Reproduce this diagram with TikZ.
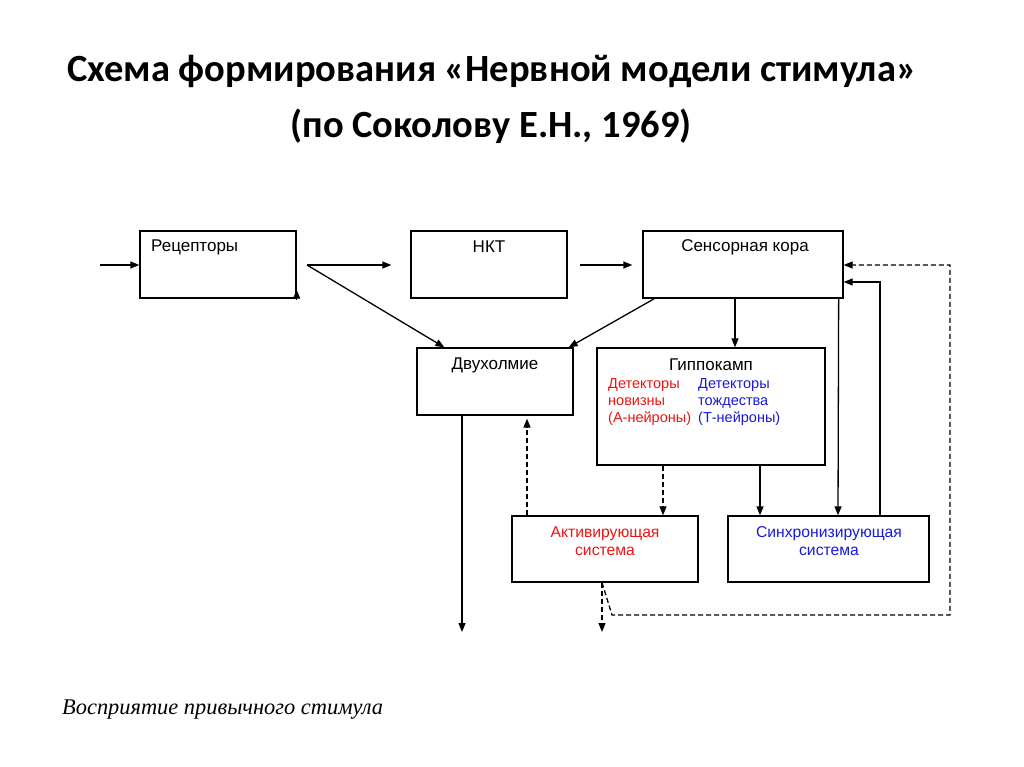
\documentclass[tikz,border=0pt]{standalone}
\usepackage{fontspec}
\setmainfont{Liberation Sans}
\newfontfamily\titlefont{Carlito}
\newfontfamily\italfont{Liberation Serif}
\usetikzlibrary{arrows.meta,calc}
\definecolor{myred}{RGB}{235,20,20}
\definecolor{myblue}{RGB}{25,25,215}
\begin{document}
\begin{tikzpicture}[x=1pt,y=-1pt,
  box/.style={draw,line width=1.3pt,inner sep=0pt,minimum height=67pt},
  lbl/.style={inner sep=0pt,font=\fontsize{17}{19}\selectfont},
  small/.style={inner sep=0pt,align=left,font=\fontsize{14.5}{17}\selectfont},
  sub/.style={inner sep=0pt,align=center,anchor=north,font=\fontsize{15.7}{18.5}\selectfont},
  tip/.style={-{Triangle[length=9pt,width=7pt]}},
  arr/.style={line width=1.3pt,tip},
  dsh/.style={line width=1.3pt,dash pattern=on 5pt off 3pt,tip}]
\useasboundingbox (0,0) rectangle (1024,767);
% title
\node[inner sep=0pt,font=\titlefont\bfseries\fontsize{38.5}{44}\selectfont] (t1) at (492,71) {Схема формирования «Нервной модели стимула»};
\node[inner sep=0pt,font=\titlefont\bfseries\fontsize{38.5}{44}\selectfont] (t2) at (491,126) {(по Соколову Е.Н., 1969)};
% boxes
\node[box,minimum width=156pt] (rec) at (218,264.5) {};
\node[box,minimum width=156pt] (nkt) at (489,264.5) {};
\node[box,minimum width=200pt] (sens) at (743,264.5) {};
\node[box,minimum width=156pt] (dvu) at (495,381.5) {};
\node[box,minimum width=228pt,minimum height=117pt] (hip) at (711,406.5) {};
\node[box,minimum width=186pt,minimum height=66pt] (act) at (605,549) {};
\node[box,minimum width=201pt,minimum height=66pt] (syn) at (828.5,549) {};
% labels
\node[lbl,anchor=west] (lrec) at (151,247) {Рецепторы};
\node[lbl] (lnkt) at (489,247) {НКТ};
\node[lbl] (lsens) at (745,247) {Сенсорная кора};
\node[lbl] (ldvu) at (495,365) {Двухолмие};
\node[lbl] (lhip) at (711,365) {Гиппокамп};
\node[small,anchor=north west,text=myred] (lnov) at (608,378.5) {Детекторы\\новизны\\(А-нейроны)};
\node[small,anchor=north west,text=myblue] (lid) at (698,378.5) {Детекторы\\тождества\\(Т-нейроны)};
\node[sub,text=myred] (lact) at (605,526) {Активирующая\\система};
\node[sub,text=myblue] (lsyn) at (829,526) {Синхронизирующая\\система};
\node[inner sep=0pt,anchor=west,font=\italfont\itshape\fontsize{22.4}{26}\selectfont] (bottom) at (62,710) {Восприятие привычного стимула};
% coordinates
\coordinate (in) at (100,265);
\coordinate (split) at (307,265);
\coordinate (nktout) at (580,265);
\coordinate (out1) at (462,632);
\coordinate (out2) at (602,632);
\coordinate (kink) at (612,615);
\coordinate (far) at (950,615);
% connectors
\draw[arr] (in) -- (rec.west |- in);
\draw[arr] ($(rec.south east)+(0,1)$) -- ++(0,-10);
\draw[arr,shorten >=19pt] (split) -- (nkt.west |- split);
\draw[arr] (split) -- ($(dvu.north west)+(28,0)$);
\draw[arr,shorten >=10pt] (nktout) -- (sens.west |- nktout);
\draw[arr] ($(sens.south west)+(12,0)$) -- ($(dvu.north east)+(-5,0)$);
\draw[arr] ($(sens.south)+(-8,0)$) -- ($(hip.north)+(24,0)$);
\draw[arr] ($(sens.south east)+(-5,0)$) -- (syn.north -| 838,0);
\draw[arr] (syn.north -| 880,0) |- ($(sens.east)+(0,17.5)$);
\draw[dsh] (hip.south -| 663,0) -- (act.north -| 663,0);
\draw[arr] (hip.south -| 760,0) -- (syn.north -| 760,0);
\draw[dsh,shorten >=3pt] (act.north -| 527,0) -- (dvu.south -| 527,0);
\draw[arr] (dvu.south -| out1) -- (out1);
\draw[dsh] (act.south -| out2) -- (out2);
\draw[dsh] (act.south -| out2) -- (kink) -- (far) |- ($(sens.east)+(0,0.5)$);
\end{tikzpicture}
\end{document}
